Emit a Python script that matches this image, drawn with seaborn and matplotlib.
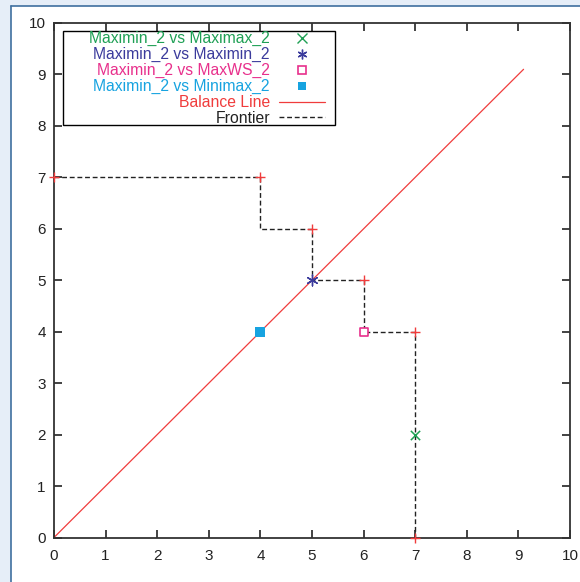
import numpy as np
import pandas as pd
import matplotlib
matplotlib.use("Agg")
import matplotlib.pyplot as plt
import seaborn as sns
from matplotlib.lines import Line2D
from matplotlib.patches import Rectangle

# data
series_names = ["Maximin_2 vs Maximax_2", "Maximin_2 vs Maximin_2",
                "Maximin_2 vs MaxWS_2", "Maximin_2 vs Minimax_2"]
series_x = [7, 5, 6, 4]
series_y = [2, 5, 4, 4]
series_colors = ["#1fa055", "#3b3b9c", "#e8308c", "#17a3e0"]
series_markers = ["x", "*", "s", "s"]
series_filled = [True, True, False, True]

balance_x = [0, 9.1]
balance_y = [0, 9.1]

frontier_x = [0, 4, 5, 6, 7, 7]
frontier_y = [7, 7, 6, 5, 4, 0]

ticks = list(range(0, 11))

sns.set_style("ticks")
plt.rcParams["font.family"] = ["Liberation Sans", "DejaVu Sans"]

fig = plt.figure(figsize=(5.8, 5.82), dpi=100)
fig.patch.set_facecolor("#e6eef8")
W, H = 580, 582
fig.patches.append(Rectangle((11 / W, 0), 1, 1 - 6 / H, transform=fig.transFigure,
                             facecolor="white", edgecolor="none", zorder=-10))
fig.lines.append(Line2D([10.5 / W, 10.5 / W], [0, 1 - 5.5 / H], transform=fig.transFigure,
                        color="#3f6f9f", lw=1.2, zorder=-5))
fig.lines.append(Line2D([10.5 / W, 1], [1 - 5.5 / H, 1 - 5.5 / H], transform=fig.transFigure,
                        color="#3f6f9f", lw=1.2, zorder=-5))

AL, AT, AW, AH = 54, 23, 516, 514.5
ax = fig.add_axes([AL / W, (H - AT - AH) / H, AW / W, AH / H])
ax.set_facecolor("white")


def px(x, y):
    # pixel position (from top-left of figure) -> axes fraction
    return (x - AL) / AW, 1 - (y - AT) / AH


bal = pd.DataFrame({"x": balance_x, "y": balance_y})
sns.lineplot(data=bal, x="x", y="y", ax=ax, color="#f03c3c", lw=0.9, zorder=2)

fr = pd.DataFrame({"x": frontier_x, "y": frontier_y})
sns.lineplot(data=fr, x="x", y="y", ax=ax, sort=False, estimator=None, errorbar=None,
             color="#222222", lw=1.0, linestyle=(0, (3.5, 2)), drawstyle="steps-pre", zorder=2)
sns.scatterplot(data=fr, x="x", y="y", ax=ax, marker="+", color="#f03c3c",
                s=60, linewidth=1.0, zorder=3, clip_on=False)

for name, x, y, c, m, f in zip(series_names, series_x, series_y, series_colors,
                               series_markers, series_filled):
    if m == "x":
        sns.scatterplot(x=[x], y=[y], ax=ax, marker="x", color=c, s=45, linewidth=1.1, zorder=4)
    elif m == "*":
        sns.scatterplot(x=[x], y=[y], ax=ax, marker=(6, 2, 0), color=c, s=60, linewidth=1.0, zorder=4)
    elif f:
        sns.scatterplot(x=[x], y=[y], ax=ax, marker="s", color=c, s=42, linewidth=0, zorder=4)
    else:
        sns.scatterplot(x=[x], y=[y], ax=ax, marker="s", facecolor="white", edgecolor=c,
                        s=40, linewidth=1.2, zorder=4)

ax.set_xlim(0, 10)
ax.set_ylim(0, 10)
ax.set_xticks(ticks)
ax.set_yticks(ticks)
ax.set_xlabel("")
ax.set_ylabel("")
for s in ax.spines.values():
    s.set_color("#333333")
    s.set_linewidth(1.3)
ax.tick_params(direction="in", length=6, width=1.2, color="#222222",
               top=True, right=True, labelsize=11, labelcolor="#222222", pad=6)
ax.tick_params(axis="x", pad=8.5)

# legend frame drawn separately (gnuplot key has wide left padding)
x0, y0 = px(63, 125.3)
x1, y1 = px(335, 30.7)
ax.add_patch(Rectangle((x0, y0), x1 - x0, y1 - y0, transform=ax.transAxes,
                       facecolor="white", edgecolor="black", lw=1.0, zorder=5))

handles = [
    Line2D([], [], ls="none", marker="x", color=series_colors[0], ms=7, mew=1.0),
    Line2D([], [], ls="none", marker=(6, 2, 0), color=series_colors[1], ms=7, mew=1.0),
    Line2D([], [], ls="none", marker="s", mfc="white", mec=series_colors[2], ms=6, mew=1.2),
    Line2D([], [], ls="none", marker="s", color=series_colors[3], ms=6, mew=0),
    Line2D([], [], color="#f03c3c", lw=0.9),
    Line2D([], [], color="#222222", lw=1.0, linestyle=(0, (3.5, 2))),
]
labels = series_names + ["Balance Line", "Frontier"]
leg = ax.legend(handles, labels, loc="upper right", bbox_to_anchor=px(325, 31),
                markerfirst=False, frameon=False, fontsize=11.3, labelspacing=0.055,
                handlelength=2.93, handletextpad=0.58, borderpad=0, borderaxespad=0,
                labelcolor=series_colors + ["#f03c3c", "#222222"])
leg.set_zorder(6)

fig.savefig("out.png", dpi=100, facecolor=fig.get_facecolor())
